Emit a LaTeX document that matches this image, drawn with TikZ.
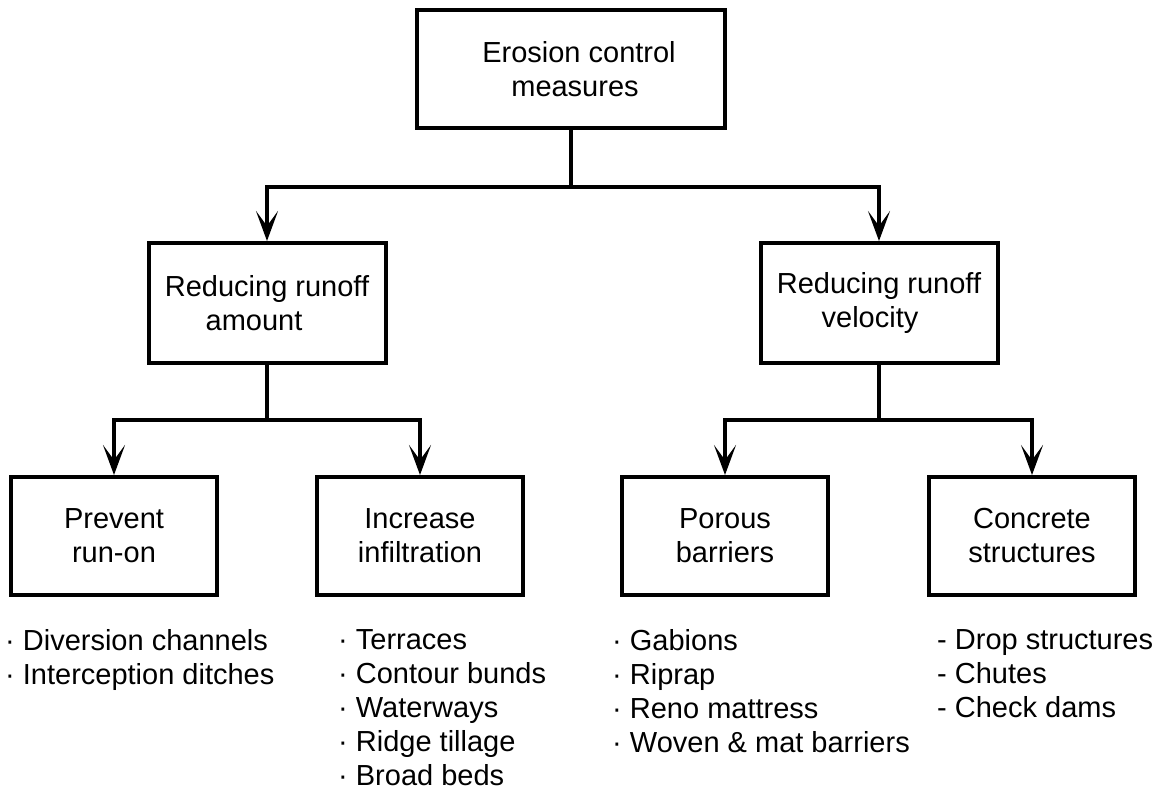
\documentclass[tikz,border=0pt]{standalone}
\usepackage{fontspec}
\setmainfont{Liberation Sans}
\usetikzlibrary{arrows.meta,calc}
\begin{document}
\begin{tikzpicture}[x=1pt,y=-1pt,
  every node/.style={font=\fontsize{29}{34}\selectfont},
  box/.style={draw,line width=4pt,align=center,inner sep=0pt},
  topbox/.style={box,minimum width=308pt,minimum height=118pt},
  midbox/.style={box,minimum width=237pt,minimum height=120pt},
  lowbox/.style={box,minimum width=206pt,minimum height=118pt},
  conn/.style={line width=3.5pt,line join=miter},
  arr/.style={conn,-{Stealth[length=30pt,width=22pt,inset=15pt]}},
  listing/.style={anchor=north west,align=left,inner sep=0pt}]
\useasboundingbox (0,0) rectangle (1174,790);
\node[topbox] (top) at (571,69) {\hspace*{16pt}Erosion control\\\hspace*{8pt}measures};
\node[midbox] (ml) at (267,303) {Reducing runoff\\amount\hspace*{26pt}};
\node[midbox] (mr) at (879,303) {Reducing runoff\\velocity\hspace*{18pt}};
\node[lowbox] (b1) at (114,536) {Prevent\\run-on};
\node[lowbox] (b2) at (420,536) {Increase\\infiltration};
\node[lowbox] (b3) at (725,536) {Porous\\barriers};
\node[lowbox] (b4) at (1032,536) {Concrete\\structures};
\path (top.south) ++(0,57) coordinate (j1);
\path (ml.south) ++(0,55) coordinate (j2);
\path (mr.south) ++(0,55) coordinate (j3);
\draw[conn] (top.south) -- (j1);
\draw[arr] (j1) -| (ml.north);
\draw[arr] (j1) -| (mr.north);
\draw[conn] (ml.south) -- (j2);
\draw[arr] (j2) -| (b1.north);
\draw[arr] (j2) -| (b2.north);
\draw[conn] (mr.south) -- (j3);
\draw[arr] (j3) -| (b3.north);
\draw[arr] (j3) -| (b4.north);
\node[listing] (l1) at (5,629) {· Diversion channels\\· Interception ditches};
\node[listing] (l2) at (338,629) {· Terraces\\· Contour bunds\\· Waterways\\· Ridge tillage\\· Broad beds};
\node[listing] (l3) at (612,629) {· Gabions\\· Riprap\\· Reno mattress\\· Woven \& mat barriers};
\node[listing] (l4) at (937,629) {- Drop structures\\- Chutes\\- Check dams};
\end{tikzpicture}
\end{document}
